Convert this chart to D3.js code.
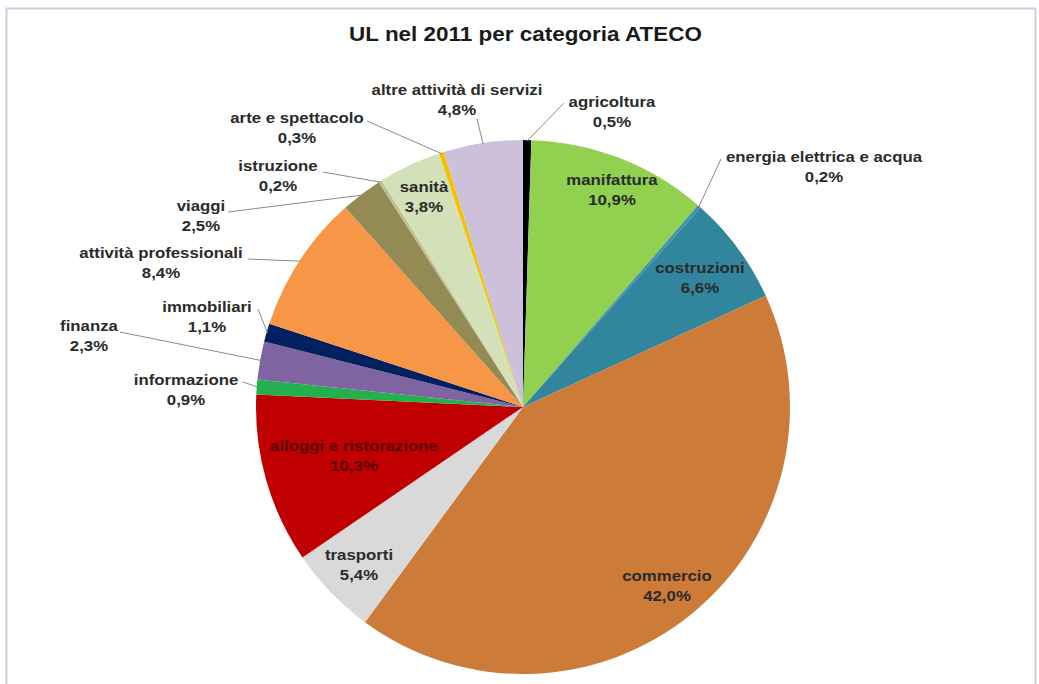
<!DOCTYPE html>
<html>
<head>
<meta charset="utf-8">
<script src="https://cdn.jsdelivr.net/npm/d3@7/dist/d3.min.js"></script>
<style>
  html, body { margin: 0; padding: 0; background: #ffffff; }
  svg { display: block; }
  text { font-family: "Liberation Sans", Arial, sans-serif; font-weight: bold; }
</style>
</head>
<body>
<svg id="chart" width="1039" height="684"></svg>
<script>
// Categorie ATECO (ordine orario a partire da ore 12)
const categories = [
  "agricoltura", "manifattura", "energia elettrica e acqua", "costruzioni",
  "commercio", "trasporti", "alloggi e ristorazione", "informazione",
  "finanza", "immobiliari", "attività professionali", "viaggi",
  "istruzione", "sanità", "arte e spettacolo", "altre attività di servizi"
];

// Quota percentuale di unità locali nel 2011
const values = [0.5, 10.9, 0.2, 6.6, 42.0, 5.4, 10.3, 0.9, 2.3, 1.1, 8.4, 2.5, 0.2, 3.8, 0.3, 4.8];

const sliceColors = [
  "#000000", "#92d050", "#3f93ad", "#31859c",
  "#cd7b38", "#d9d9d9", "#c00000", "#22b14c",
  "#8064a2", "#002060", "#f79646", "#948a54",
  "#c4bd97", "#d3e0b8", "#f5c000", "#ccc0da"
];

// Posizione etichette: [x centro, y prima riga, x attacco linea guida, y attacco] (null = etichetta interna)
const labelLayout = [
  [612, 102, 564, 103],
  [612, 180, null, null],
  [824, 157, 721, 159],
  [700, 268, null, null],
  [667, 576, null, null],
  [359, 555, null, null],
  [354, 446, null, null],
  [186, 380, 243, 382],
  [89, 326, 120, 332],
  [207, 307, 258, 309],
  [161, 253, 248, 259],
  [201, 206, 228, 212],
  [278, 166, 323, 172],
  [424, 187, null, null],
  [297, 118, 367, 121],
  [457, 90, 477, 119]
];

const labelFill = (i) => i === 6 ? "#5c0000" : "#2b2b2b";

const width = 1039, height = 684;
const cx = 523, cy = 407, radius = 267;

const svg = d3.select("#chart");

// cornice del grafico
svg.append("rect")
  .attr("x", 6.5).attr("y", 8.5)
  .attr("width", 1029).attr("height", 690)
  .attr("fill", "#ffffff")
  .attr("stroke", "#c8d2e2")
  .attr("stroke-width", 2);

svg.append("text")
  .attr("x", width / 2 + 6).attr("y", 41)
  .attr("text-anchor", "middle")
  .attr("font-size", 21)
  .attr("fill", "#1a1a1a")
  .attr("transform", `translate(${(width / 2 + 6)} 0) scale(1.07 1) translate(${-(width / 2 + 6)} 0)`)
  .text("UL nel 2011 per categoria ATECO");

const pie = d3.pie().sort(null).value(d => d).startAngle(0).endAngle(2 * Math.PI);
const arcs = pie(values);

const arc = d3.arc().innerRadius(0).outerRadius(radius);
const edgeArc = d3.arc().innerRadius(radius - 1).outerRadius(radius - 1);

const g = svg.append("g").attr("transform", `translate(${cx},${cy})`);

g.selectAll("path.slice")
  .data(arcs)
  .enter().append("path")
  .attr("class", "slice")
  .attr("d", arc)
  .attr("fill", (d, i) => sliceColors[i]);

const locale = d3.formatLocale({ decimal: ",", thousands: ".", grouping: [3], currency: ["", "€"] });
const fmt = locale.format(".1f");

// linee guida per le etichette esterne
const leaders = svg.append("g");
arcs.forEach((d, i) => {
  const L = labelLayout[i];
  if (L[2] === null) return;
  const [ex, ey] = edgeArc.centroid(d);
  const pts = [[L[2], L[3]], [cx + ex, cy + ey]];
  leaders.append("path")
    .attr("d", d3.line()(pts))
    .attr("fill", "none")
    .attr("stroke", "#8a8a8a")
    .attr("stroke-width", 1);
});

// etichette: nome categoria e percentuale
const labels = svg.append("g");
arcs.forEach((d, i) => {
  const L = labelLayout[i];
  const t = labels.append("g")
    .attr("transform", `translate(${L[0]},${L[1]}) scale(1.2 1)`);
  t.append("text")
    .attr("x", 0).attr("y", 5)
    .attr("text-anchor", "middle")
    .attr("font-size", 14)
    .attr("fill", labelFill(i))
    .text(categories[i]);
  t.append("text")
    .attr("x", 0).attr("y", 25)
    .attr("text-anchor", "middle")
    .attr("font-size", 14)
    .attr("fill", labelFill(i))
    .text(fmt(values[i]) + "%");
});
</script>
</body>
</html>
